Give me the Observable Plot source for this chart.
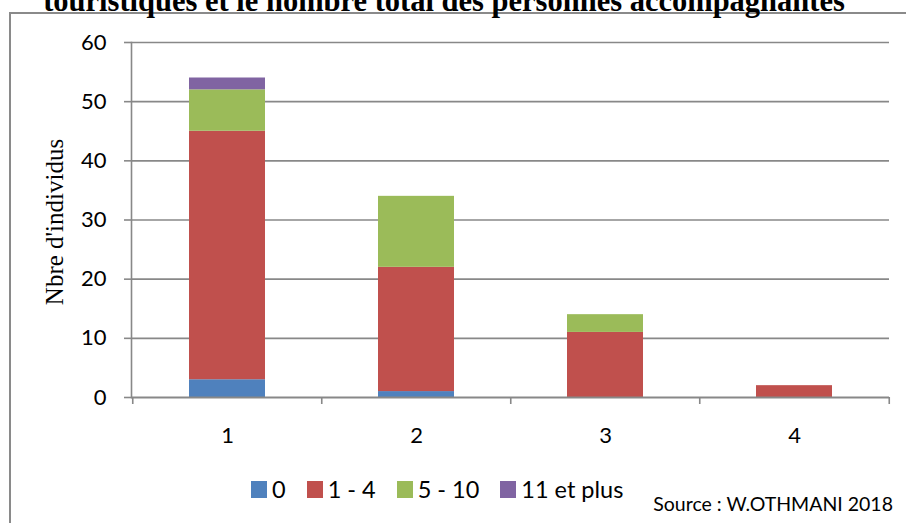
<!DOCTYPE html>
<html><head><meta charset="utf-8">
<script src="https://cdn.jsdelivr.net/npm/d3@7"></script>
<script src="https://cdn.jsdelivr.net/npm/@observablehq/plot@0.6"></script>
<style>
body{margin:0;background:#fff;}
#wrap{position:relative;width:906px;height:523px;overflow:hidden;font-family:Lato,sans-serif;background:#fff;}
#title{position:absolute;left:0;width:888px;top:-14px;text-align:center;font-family:"Liberation Serif",serif;font-weight:bold;font-size:30.5px;line-height:30px;color:#000;white-space:nowrap;}
#frame{position:absolute;left:9px;top:12px;width:900px;height:520px;border-left:2px solid #8a8a8a;border-top:2px solid #8a8a8a;}
#chart{position:absolute;left:0;top:0;}
#ylabel{position:absolute;left:55px;top:222px;transform:translate(-50%,-50%) rotate(-90deg);font-family:"Liberation Serif",serif;font-size:25px;line-height:26px;white-space:nowrap;color:#000;}
#legend{position:absolute;left:251px;top:474px;height:30px;display:flex;align-items:center;font-size:23.5px;line-height:30px;color:#000;}
#legend .item{display:flex;align-items:center;margin-right:21px;}
#legend .sw{width:16px;height:17px;margin-right:5px;}
#source{position:absolute;right:13px;top:492px;font-size:19.5px;color:#000;}
</style></head><body>
<div id="wrap">
 <div id="frame"></div>
 <div id="title">touristiques et le nombre total des personnes accompagnantes</div>
 <div id="chart"></div>
 <div id="ylabel"></div>
 <div id="legend"></div>
 <div id="source">Source : W.OTHMANI 2018</div>
</div>
<script>
const categories = ["1", "2", "3", "4"];
const seriesNames = ["0", "1 - 4", "5 - 10", "11 et plus"];
const series0 = [3, 1, 0, 0];
const series1to4 = [42, 21, 11, 2];
const series5to10 = [7, 12, 3, 0];
const series11plus = [2, 0, 0, 0];
const colors = ["#4F81BD", "#C0504D", "#9BBB59", "#8064A2"];
const yTicks = [0, 10, 20, 30, 40, 50, 60];
const yLabel = "Nbre d'individus";

const allSeries = [series0, series1to4, series5to10, series11plus];
const data = [];
allSeries.forEach((arr, k) => arr.forEach((v, i) => data.push({cat: categories[i], series: seriesNames[k], value: v})));

const W = 906, H = 523, mL = 131, mR = 17, mT = 42, mB = 126;
const step = (W - mL - mR) / categories.length;
const grey = "#888888";

const chart = Plot.plot({
  width: W, height: H, marginLeft: mL, marginRight: mR, marginTop: mT, marginBottom: mB,
  style: {fontFamily: "Lato, sans-serif", fontSize: "22px", color: "#000", background: "transparent", overflow: "visible"},
  x: {domain: categories, paddingInner: 0.6, paddingOuter: 0.3, axis: null, label: null},
  y: {domain: [0, 60], axis: null, label: null},
  color: {domain: seriesNames, range: colors},
  marks: [
    Plot.gridY(yTicks.slice(1), {stroke: grey, strokeOpacity: 1, strokeWidth: 1.6}),
    Plot.barY(data, {x: "cat", y: "value", fill: "series"}),
    Plot.ruleY([0], {stroke: grey, strokeWidth: 2}),
    Plot.frame({anchor: "left", stroke: grey, strokeWidth: 1.6}),
    Plot.axisY(yTicks, {tickSize: 7, tickPadding: 18, stroke: grey, strokeWidth: 1.6, fill: "#000", fontSize: 22, label: null}),
    Plot.axisX(categories, {tickSize: 7, tickFormat: () => "", dx: -step / 2, stroke: grey, strokeWidth: 1.6, label: null}),
    Plot.axisX([categories[categories.length - 1]], {tickSize: 7, tickFormat: () => "", dx: step / 2, stroke: grey, strokeWidth: 1.6, label: null}),
    Plot.axisX(categories, {tickSize: 0, tickPadding: 30, fill: "#000", fontSize: 22, label: null})
  ]
});
document.getElementById("chart").appendChild(chart);
document.getElementById("ylabel").textContent = yLabel;

const legend = document.getElementById("legend");
seriesNames.forEach((name, k) => {
  const item = document.createElement("div");
  item.className = "item";
  const sw = document.createElement("div");
  sw.className = "sw";
  sw.style.background = colors[k];
  const lab = document.createElement("span");
  lab.textContent = name;
  item.appendChild(sw); item.appendChild(lab);
  legend.appendChild(item);
});
</script>
</body></html>
